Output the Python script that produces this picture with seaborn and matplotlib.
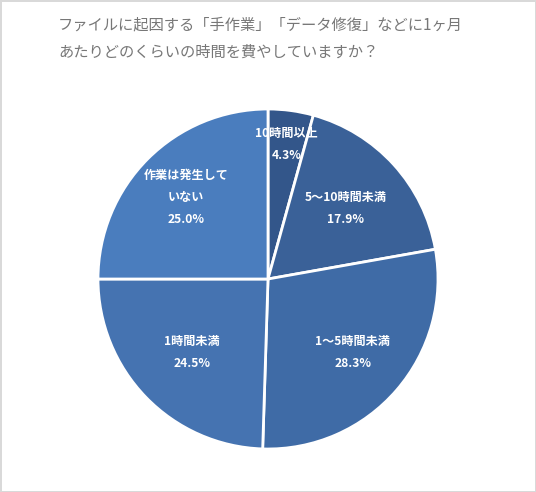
import numpy as np
import matplotlib.pyplot as plt
import seaborn as sns

# values
labels = ['10時間以上', '5～10時間未満', '1～5時間未満', '1時間未満', '作業は発生して\nいない']
shares = [4.3, 17.9, 28.3, 24.5, 25.0]
colors = ['#33568A', '#3A6198', '#3F6BA6', '#4573B1', '#4A7DBE']
label_r = [0.80, 0.62, 0.66, 0.62, 0.68]

sns.set_theme(style='white')
plt.rcParams['font.family'] = ['Noto Sans CJK JP', 'DejaVu Sans']

fig = plt.figure(figsize=(5.36, 4.92), dpi=100)
fig.patch.set_edgecolor('#d9d9d9')
fig.patch.set_linewidth(2)
ax = fig.add_axes([(268 - 170) / 536, 1 - (279 + 170) / 492, 340 / 536, 340 / 492])

wedges, _ = ax.pie(shares, colors=colors, startangle=90, counterclock=False,
                   radius=1.0, wedgeprops=dict(edgecolor='white', linewidth=2))
ax.set_xlim(-1, 1)
ax.set_ylim(-1, 1)

for w, lab, val, r in zip(wedges, labels, shares, label_r):
    ang = np.deg2rad((w.theta1 + w.theta2) / 2)
    x, y = r * np.cos(ang), r * np.sin(ang)
    ax.text(x, y, f'{lab}\n{val:.1f}%', ha='center', va='center', color='white',
            fontsize=8.7, fontweight='bold', linespacing=1.9)

fig.text(58 / 536, 1 - 25 / 492, 'ファイルに起因する「手作業」「データ修復」などに1ヶ月',
         fontsize=11, color='#777777', va='center', ha='left')
fig.text(58 / 536, 1 - 52 / 492, 'あたりどのくらいの時間を費やしていますか？',
         fontsize=11, color='#777777', va='center', ha='left')

fig.savefig('out.png', dpi=100, edgecolor=fig.get_edgecolor())
